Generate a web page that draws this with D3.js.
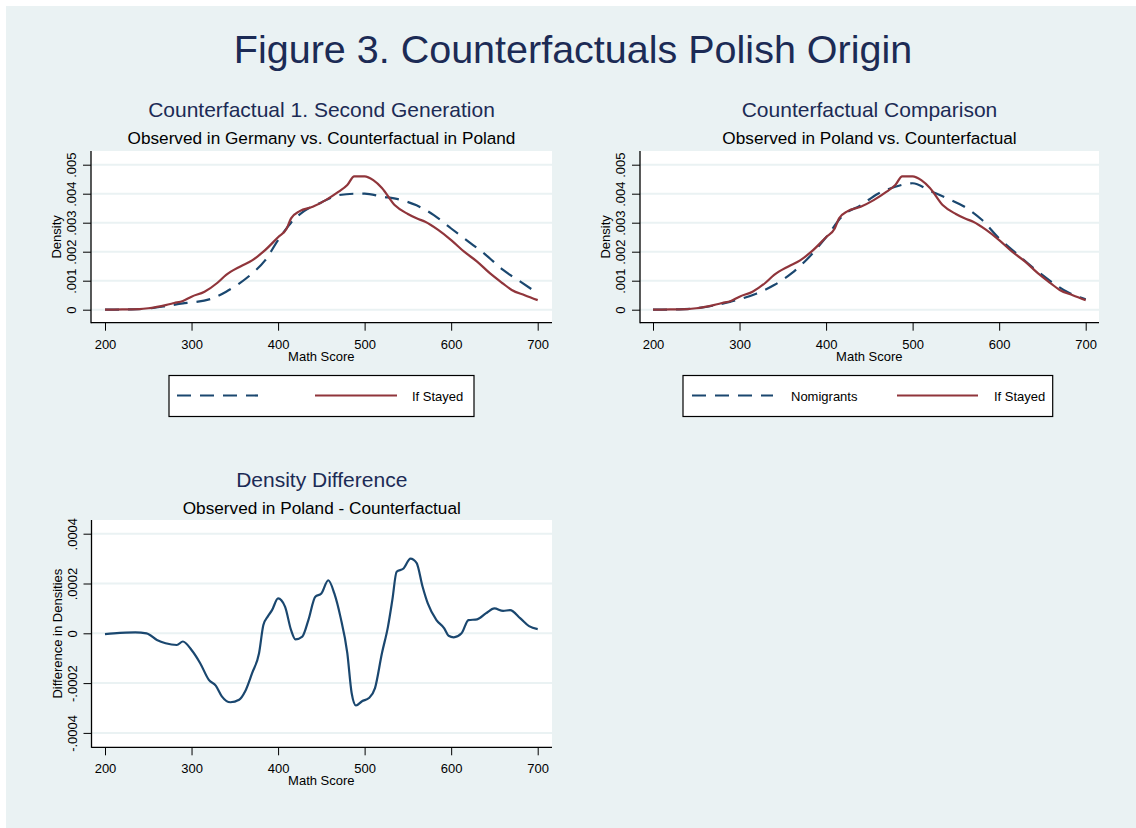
<!DOCTYPE html>
<html>
<head>
<meta charset="utf-8">
<script src="https://cdn.jsdelivr.net/npm/d3@7"></script>
<style>
  html, body { margin: 0; padding: 0; background: #ffffff; }
  svg { display: block; font-family: "Liberation Sans", Arial, Helvetica, sans-serif; }
</style>
</head>
<body>
<svg id="chart" width="1136" height="828"></svg>
<script>
// ---------------- DATA ----------------
const scoreTicks = [200, 300, 400, 500, 600, 700];
const densityTicks = [0, 0.001, 0.002, 0.003, 0.004, 0.005];
const densityTickLabels = ["0", ".001", ".002", ".003", ".004", ".005"];
const diffTicks = [-0.0004, -0.0002, 0, 0.0002, 0.0004];
const diffTickLabels = ["-.0004", "-.0002", "0", ".0002", ".0004"];

// "If Stayed" (counterfactual in Poland)
const stayedX = [200, 220, 240, 250, 260, 270, 280, 290, 300, 315, 330, 340, 357, 370, 383, 400, 410, 415, 425, 440, 455, 470, 480, 488, 500, 510, 520, 535, 550, 560, 570, 585, 600, 615, 630, 645, 660, 670, 685, 700];
const stayedY = [0, 0.00001, 0.00002, 0.00005, 0.0001, 0.00016, 0.00023, 0.0003, 0.00045, 0.00062, 0.00093, 0.0012, 0.0015, 0.0017, 0.002, 0.0025, 0.0028, 0.00315, 0.0034, 0.00355, 0.00378, 0.00407, 0.0043, 0.0046, 0.0046, 0.00447, 0.0042, 0.0036, 0.0033, 0.00315, 0.00303, 0.00275, 0.0024, 0.002, 0.00166, 0.00125, 0.0009, 0.00068, 0.0005, 0.00033];

// Observed in Germany (panel 1, dashed)
const germanyX = [200, 230, 250, 270, 290, 300, 325, 340, 355, 370, 385, 400, 415, 430, 450, 470, 490, 500, 520, 540, 560, 580, 600, 620, 640, 660, 680, 700];
const germanyY = [0, 0.00001, 0.00004, 0.00012, 0.00022, 0.00025, 0.0004, 0.00062, 0.0009, 0.00125, 0.0017, 0.0024, 0.003, 0.0034, 0.0037, 0.00395, 0.004, 0.004, 0.0039, 0.0038, 0.0036, 0.00326, 0.0028, 0.00235, 0.00189, 0.00137, 0.00097, 0.00056];

// Nomigrants (observed in Poland, panel 2, dashed)
const nomigX = [200, 230, 250, 270, 290, 300, 320, 340, 360, 380, 400, 420, 440, 460, 480, 500, 520, 540, 560, 580, 600, 620, 640, 660, 680, 700];
const nomigY = [0, 0.00001, 0.00005, 0.00014, 0.00028, 0.00036, 0.00056, 0.00085, 0.00125, 0.0018, 0.0025, 0.00326, 0.0036, 0.004, 0.00424, 0.00436, 0.0041, 0.00384, 0.00355, 0.0031, 0.00246, 0.00194, 0.00143, 0.00097, 0.00059, 0.00036];

// Density difference (panel 3)
const diffX = [200, 210, 235, 248, 260, 270, 283, 290, 300, 310, 320, 328, 335, 345, 355, 362, 370, 378, 383, 388, 393, 400, 408, 415, 420, 428, 435, 443, 450, 458, 465, 472, 480, 485, 490, 497, 505, 512, 520, 527, 532, 537, 545, 553, 560, 567, 573, 583, 592, 597, 603, 612, 620, 630, 640, 650, 660, 668, 680, 690, 700];
const diffY = [-0.000003, 0, 0.000004, 0, -0.000027, -0.00004, -0.000047, -0.000033, -0.000067, -0.00012, -0.000187, -0.00021, -0.000253, -0.000277, -0.000267, -0.000233, -0.00016, -0.00008, 0.000033, 0.000067, 0.000093, 0.00014, 0.000107, 0.000013, -0.000024, -0.000013, 0.000053, 0.000147, 0.00016, 0.000213, 0.00016, 0.000067, -0.00008, -0.00024, -0.00029, -0.000273, -0.00026, -0.00022, -0.00008, 0.000027, 0.000133, 0.000247, 0.00026, 0.0003, 0.000283, 0.000187, 0.00012, 0.000053, 0.00002, -0.00001, -0.000016, 0, 0.000053, 0.000056, 0.00008, 0.0001, 0.00009, 0.000093, 0.00006, 0.000029, 0.000017];

// ---------------- STYLE ----------------
const NAVY_TITLE = "#1c2b55";
const BLUE = "#1a476f";
const RED = "#90353b";
const BG = "#eaf2f3";
const GRID = "#eaf2f3";

const svg = d3.select("#chart");
svg.append("rect").attr("x", 6).attr("y", 6).attr("width", 1130).attr("height", 822).attr("fill", BG);

svg.append("text").attr("x", 573).attr("y", 63).attr("text-anchor", "middle")
  .attr("font-size", 39.5).attr("fill", NAVY_TITLE).text("Figure 3. Counterfactuals Polish Origin");

function zip(xs, ys) { return xs.map((x, i) => [x, ys[i]]); }

function panel(cfg) {
  const g = svg.append("g");
  const { left, right, top, bottom } = cfg.box;
  const x = d3.scaleLinear().domain([200, 700]).range(cfg.xRange);
  const y = d3.scaleLinear().domain(cfg.yDomain).range(cfg.yRange);
  const cx = (left + right) / 2;

  g.append("text").attr("x", cx).attr("y", cfg.titleY).attr("text-anchor", "middle")
    .attr("font-size", 21).attr("fill", NAVY_TITLE).text(cfg.title);
  g.append("text").attr("x", cx).attr("y", cfg.titleY + 27).attr("text-anchor", "middle")
    .attr("font-size", 17.2).attr("fill", "#000").text(cfg.subtitle);

  g.append("rect").attr("x", left).attr("y", top).attr("width", right - left).attr("height", bottom - top).attr("fill", "#fff");

  // gridlines
  g.append("g").selectAll("line").data(cfg.yTicks).join("line")
    .attr("x1", left).attr("x2", right)
    .attr("y1", d => y(d)).attr("y2", d => y(d))
    .attr("stroke", GRID).attr("stroke-width", 2);

  // series
  const line = d3.line().x(d => x(d[0])).y(d => y(d[1])).curve(d3.curveMonotoneX);
  cfg.series.forEach(s => {
    g.append("path").datum(zip(s.xs, s.ys)).attr("d", line)
      .attr("fill", "none").attr("stroke", s.color).attr("stroke-width", 2.2)
      .attr("stroke-dasharray", s.dash || null).attr("stroke-linejoin", "round");
  });

  // axes
  const yAxis = d3.axisLeft(y).tickValues(cfg.yTicks).tickSize(8).tickPadding(0)
    .tickFormat((d, i) => cfg.yTickLabels[i]);
  const ya = g.append("g").attr("transform", `translate(${left},0)`).call(yAxis);
  ya.select(".domain").remove();
  ya.selectAll(".tick line").attr("stroke", "#000");
  ya.selectAll(".tick text").attr("x", null).attr("dy", null)
    .attr("transform", "translate(-15,0) rotate(-90)")
    .attr("text-anchor", "middle").attr("font-size", 13).attr("fill", "#000")
    .attr("font-family", "Liberation Sans, Arial, sans-serif");

  const xAxis = d3.axisBottom(x).tickValues(scoreTicks).tickSize(8).tickPadding(0).tickFormat(d3.format("d"));
  const xa = g.append("g").attr("transform", `translate(0,${bottom})`).call(xAxis);
  xa.select(".domain").remove();
  xa.selectAll(".tick line").attr("stroke", "#000");
  xa.selectAll(".tick text").attr("y", 26).attr("dy", null).attr("font-size", 13).attr("fill", "#000")
    .attr("font-family", "Liberation Sans, Arial, sans-serif");

  g.append("line").attr("x1", left).attr("x2", left).attr("y1", top).attr("y2", bottom + 0.5).attr("stroke", "#000").attr("stroke-width", 1.3);
  g.append("line").attr("x1", left).attr("x2", right).attr("y1", bottom).attr("y2", bottom).attr("stroke", "#000").attr("stroke-width", 1.3);

  g.append("text").attr("x", (x(200) + x(700)) / 2).attr("y", bottom + 38).attr("text-anchor", "middle")
    .attr("font-size", 13).attr("fill", "#000").text("Math Score");
  g.append("text").attr("transform", `translate(${left - 30},${(top + bottom) / 2}) rotate(-90)`).attr("text-anchor", "middle")
    .attr("font-size", 13).attr("fill", "#000").text(cfg.yTitle);

  if (cfg.legend) {
    const L = cfg.legend;
    g.append("rect").attr("x", L.x0).attr("y", 375.5).attr("width", L.x1 - L.x0).attr("height", 41)
      .attr("fill", "#fff").attr("stroke", "#000").attr("stroke-width", 1.2);
    L.items.forEach(it => {
      g.append("line").attr("x1", it.a).attr("x2", it.b).attr("y1", 395.5).attr("y2", 395.5)
        .attr("stroke", it.color).attr("stroke-width", 2.2).attr("stroke-dasharray", it.dash || null);
      if (it.label) g.append("text").attr("x", it.tx).attr("y", 400.5).attr("font-size", 13).attr("fill", "#000").text(it.label);
    });
  }
}

panel({
  box: { left: 91, right: 552, top: 151, bottom: 322.7 },
  xRange: [105, 537.7],
  yDomain: [0, 0.005], yRange: [309.7, 164.7],
  yTicks: densityTicks, yTickLabels: densityTickLabels,
  title: "Counterfactual 1. Second Generation",
  subtitle: "Observed in Germany vs. Counterfactual in Poland",
  titleY: 117, yTitle: "Density",
  series: [
    { xs: germanyX, ys: germanyY, color: BLUE, dash: "14,9" },
    { xs: stayedX, ys: stayedY, color: RED }
  ],
  legend: { x0: 169, x1: 474, items: [
    { a: 177, b: 258, color: BLUE, dash: "14,9", label: "", tx: 0 },
    { a: 315, b: 397, color: RED, label: "If Stayed", tx: 412 }
  ] }
});

panel({
  box: { left: 640, right: 1099, top: 151, bottom: 322.7 },
  xRange: [653, 1085.7],
  yDomain: [0, 0.005], yRange: [309.7, 164.7],
  yTicks: densityTicks, yTickLabels: densityTickLabels,
  title: "Counterfactual Comparison",
  subtitle: "Observed in Poland vs. Counterfactual",
  titleY: 117, yTitle: "Density",
  series: [
    { xs: nomigX, ys: nomigY, color: BLUE, dash: "14,9" },
    { xs: stayedX, ys: stayedY, color: RED }
  ],
  legend: { x0: 683, x1: 1052.7, items: [
    { a: 692, b: 773, color: BLUE, dash: "14,9", label: "Nomigrants", tx: 791 },
    { a: 897, b: 978, color: RED, label: "If Stayed", tx: 994 }
  ] }
});

panel({
  box: { left: 91.5, right: 552, top: 520, bottom: 747.3 },
  xRange: [105, 537.7],
  yDomain: [0, 0.0004], yRange: [633.3, 533.7],
  yTicks: diffTicks, yTickLabels: diffTickLabels,
  title: "Density Difference",
  subtitle: "Observed in Poland - Counterfactual",
  titleY: 487, yTitle: "Difference in Densities",
  series: [
    { xs: diffX, ys: diffY, color: BLUE }
  ]
});
</script>
</body>
</html>
